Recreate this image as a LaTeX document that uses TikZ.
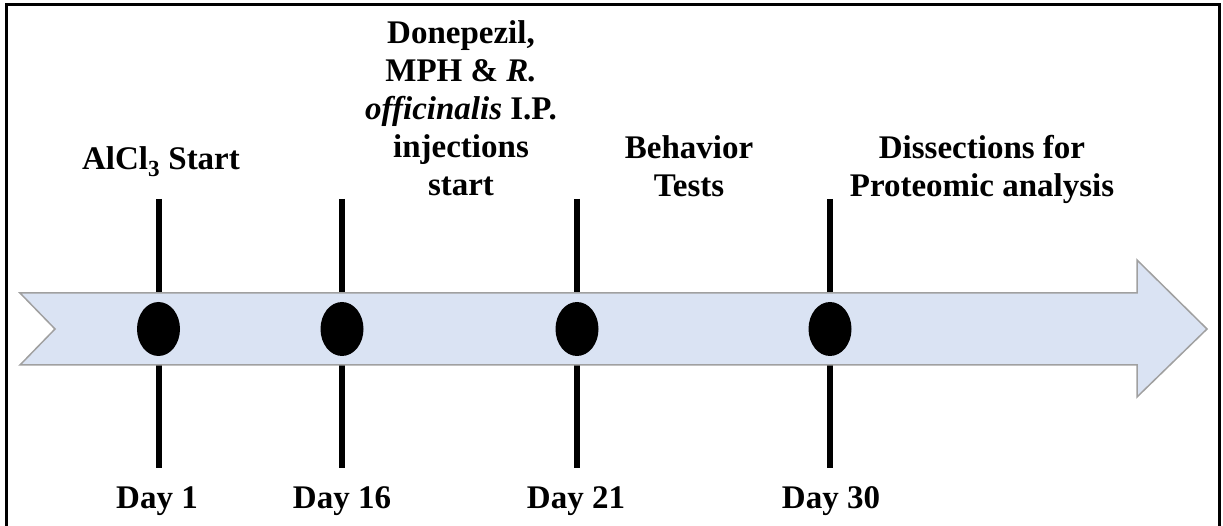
\documentclass[tikz,border=0pt]{standalone}
\usepackage{fontspec}
\setmainfont{Liberation Serif}
\usetikzlibrary{shapes.geometric}
\definecolor{arrowfill}{HTML}{DAE3F3}
\definecolor{arrowline}{HTML}{A0A0A0}
\tikzset{
  lbl/.style={font=\fontsize{33}{38}\selectfont\bfseries, inner sep=0pt, align=center},
  tick/.style={line width=6pt, black},
  dot/.style={ellipse, fill=black, draw=none, minimum width=43pt, minimum height=54pt, inner sep=0pt},
  band/.style={fill=arrowfill, draw=arrowline, line width=1.5pt, line join=miter},
  frame/.style={line width=3pt, black}
}
\begin{document}
\begin{tikzpicture}[x=1pt,y=-1pt]
\useasboundingbox (0,0) rectangle (1223,526);
% frame (open at the bottom)
\draw[frame] (6,540) -- (6,5) -- (1219,5) -- (1219,540);
% tick lines
\foreach \n/\x in {a/158.5,b/342,c/577,d/830}{
  \coordinate (\n top) at (\x,199);
  \coordinate (\n bot) at (\x,468);
  \draw[tick] (\n top) -- (\n bot);
}
% timeline band arrow
\draw[band] (20,293) -- (1137,293) -- (1137,260) -- (1207,329) -- (1137,397)
  -- (1137,365) -- (20,365) -- (55,329) -- cycle;
% event dots
\foreach \n/\x in {a/158.5,b/342,c/577,d/830}{
  \node[dot] (\n dot) at (\x,329) {};
}
% labels
\node[lbl, anchor=base] (lA) at (161,170) {AlCl\textsubscript{3} Start};
\node[lbl, anchor=north] (lB) at (461,20) {Donepezil,\\MPH \& \textit{R.}\\\textit{officinalis} I.P.\\injections\\start};
\node[lbl, anchor=north] (lC) at (689,135) {Behavior\\Tests};
\node[lbl, anchor=north] (lD) at (982,135) {Dissections for\\Proteomic analysis};
\node[lbl, anchor=base] (dA) at (157,508) {Day 1};
\node[lbl, anchor=base] (dB) at (342,508) {Day 16};
\node[lbl, anchor=base] (dC) at (576,508) {Day 21};
\node[lbl, anchor=base] (dD) at (831,508) {Day 30};
\end{tikzpicture}
\end{document}
